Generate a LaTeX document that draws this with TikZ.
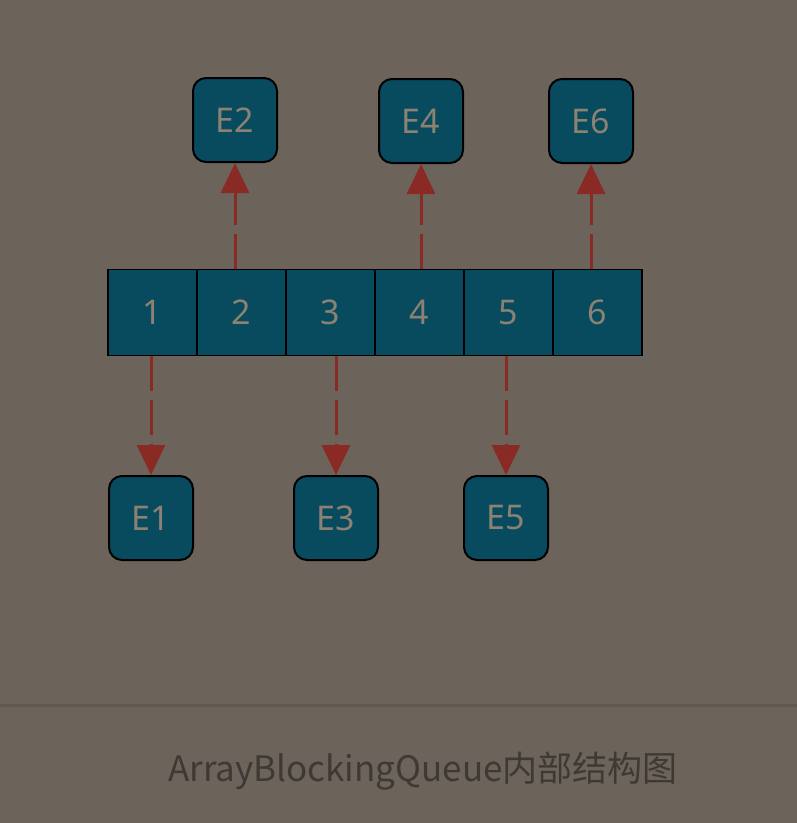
\documentclass[tikz,border=0pt]{standalone}
\usepackage{fontspec}
\setmainfont{Noto Sans}
\newfontfamily\cjk{Noto Sans CJK SC}
\usetikzlibrary{arrows.meta}

\definecolor{bgcol}{RGB}{108,100,91}
\definecolor{boxcol}{RGB}{8,74,94}
\definecolor{txtcol}{RGB}{140,130,114}
\definecolor{arrcol}{RGB}{138,42,36}
\definecolor{capcol}{RGB}{62,57,52}
\definecolor{rulecol}{RGB}{96,89,81}

\tikzset{
    cell/.style={draw=black, line width=1.5pt, fill=boxcol, text=txtcol,
        minimum width=89pt, minimum height=86pt, inner sep=0pt,
        font=\fontsize{34}{34}\selectfont},
    elem/.style={cell, rounded corners=13pt, minimum width=84pt,
        minimum height=84pt, line width=2pt},
    qarrow/.style={draw=arrcol, line width=3pt,
        dash pattern=on 35pt off 9pt,
        -{Triangle[length=30pt,width=28pt]}}
}

\begin{document}
\begin{tikzpicture}[x=1pt,y=-1pt]

    \fill[bgcol] (0, 0) rectangle (797, 823);
    \useasboundingbox (0, 0) rectangle (797, 823);

    % array cells
    \foreach \i in {1,...,6}
        \node[cell] (c\i) at (63.5 + 89*\i, 312.5) {\i};

    % elements taken out / put in
    \node[elem] (e1) at (151, 518) {E1};
    \node[elem] (e2) at (235, 120) {E2};
    \node[elem] (e3) at (336, 518) {E3};
    \node[elem] (e4) at (421, 121) {E4};
    \node[elem] (e5) at (506, 518) {E5};
    \node[elem] (e6) at (591, 121) {E6};

    \draw[qarrow] (e2.south |- c2.north) -- (e2.south);
    \draw[qarrow] (e4.south |- c4.north) -- (e4.south);
    \draw[qarrow] (e6.south |- c6.north) -- (e6.south);
    \draw[qarrow] (e1.north |- c1.south) -- (e1.north);
    \draw[qarrow] (e3.north |- c3.south) -- (e3.north);
    \draw[qarrow] (e5.north |- c5.south) -- (e5.north);

    % caption
    \draw[rulecol, line width=3pt] (0, 705) -- (797, 705);
    \node[text=capcol, font=\cjk\fontsize{35}{35}\selectfont] (cap)
        at (423, 771) {ArrayBlockingQueue内部结构图};

\end{tikzpicture}
\end{document}
